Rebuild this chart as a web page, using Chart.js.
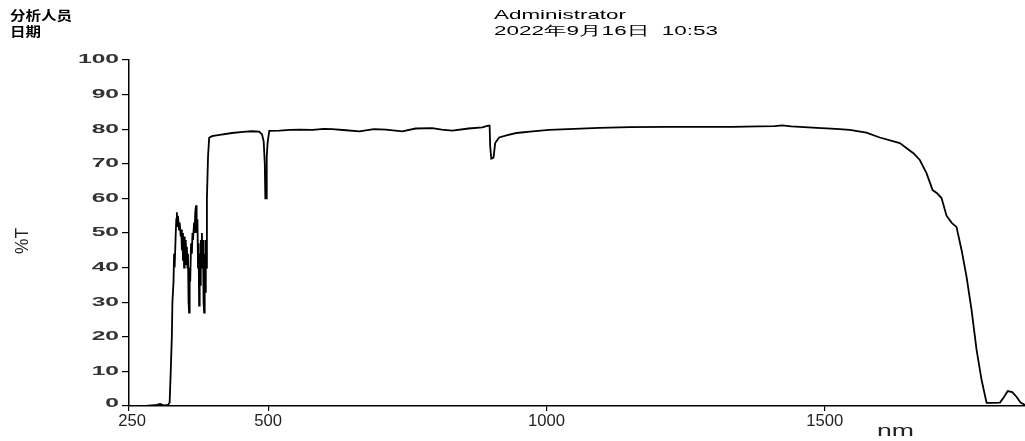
<!DOCTYPE html>
<html>
<head>
<meta charset="utf-8">
<script src="https://cdn.jsdelivr.net/npm/chart.js@4.4.1/dist/chart.umd.min.js"></script>
<style>
html,body{margin:0;padding:0;background:#fff;}
#wrap{width:1025px;height:441px;position:relative;}
</style>
</head>
<body>
<div id="wrap"><canvas id="c" width="1025" height="441"></canvas></div>
<script>
// Wavelength (nm) and transmittance (%T)
const wavelengths = [250,280,300,306,312,320,323,325,327,328,330,331,332,334,335,336,337,338,340,341,343,344,345,346,347,348,349,350,351,352,353,354,355,356,357,358,359,360,361.5,363,364,365,367,368,369,370.5,371,372,373,374,375,376,377,378,379,380,381,382,383,384,385,386,387,388,389,390,392,394,399,410,435,455,471,484,489,492,494,495,496.5,497.5,499,502,520,540,556,580,600,615,640,664,690,712,741,765,795,812,831,860,885,895,898,899,901,905,908,915,930,946,975,1005,1050,1095,1150,1216,1280,1335,1380,1410,1424,1440,1486,1520,1545,1575,1599,1635,1660,1671,1683,1694,1702,1710,1719,1728,1737,1746,1755,1764,1773,1782,1791,1802,1815,1822,1829,1837,1845,1852,1860];
const transmittance = [0,0,0.3,0.6,0.2,0.3,1,10,20,30,36,44,40,50,54,56,52,55,51,53,49,51,45,50,42,48,40,49,42,48,41,46,40,44,30,27,40,36,47,44,50,48,53,50,56,58,54,50,54,40,47,29,44,35,48,40,50,42,48,30,27,44,33,48,40,60,72,77.5,78,78.3,78.9,79.2,79.4,79.3,78.5,76.5,70,60,60,72,76,79.5,79.6,79.8,79.9,79.8,80.1,80,79.7,79.4,80,79.9,79.4,80.2,80.3,79.9,79.6,80.2,80.5,81,81,75,71.5,71.8,76,77.6,78.3,78.9,79.4,79.8,80.1,80.4,80.6,80.7,80.7,80.7,80.8,80.9,81.1,80.8,80.4,80.1,79.8,79,77.6,76,73,71.1,67.3,62.4,61.5,60.1,55,53,51.7,45.1,37.3,27.7,16.2,7.5,0.9,0.9,1,2.5,4.3,4,2.6,1,0.3];
const xTickValues = [250,500,1000,1500];
const yTickValues = [0,10,20,30,40,50,60,70,80,90,100];
const headerLeft = ["分析人员","日期"];
const headerRight = ["Administrator","2022年9月16日  10:53"];
const xTitle = "nm";
const yTitle = "%T";

const points = wavelengths.map((w,i)=>({x:w,y:transmittance[i]}));

function fitText(ctx, text, x, y, targetW, font, align, color){
  ctx.save();
  ctx.font = font;
  ctx.fillStyle = color || '#000';
  ctx.textBaseline = 'alphabetic';
  ctx.textAlign = 'left';
  const w = ctx.measureText(text).width;
  const sx = targetW / w;
  ctx.translate(x, y);
  ctx.scale(sx, 1);
  let ox = 0;
  if (align === 'right') ox = -w;
  else if (align === 'center') ox = -w/2;
  ctx.fillText(text, ox, 0);
  ctx.restore();
}
function scaleFactor(ctx, text, targetW, font){
  ctx.save(); ctx.font = font; const w = ctx.measureText(text).width; ctx.restore();
  return targetW / w;
}

const textPlugin = {
  id: 'texts',
  afterDraw(chart){
    const ctx = chart.ctx;
    const cjk = 'bold 13px "Noto Sans CJK SC", sans-serif';
    fitText(ctx, headerLeft[0], 10, 20, 62, cjk, 'left', '#000');
    fitText(ctx, headerLeft[1], 10, 36, 31, cjk, 'left', '#000');
    const lat = '13px "Liberation Sans", Arial, sans-serif';
    fitText(ctx, headerRight[0], 494, 19, 132, lat, 'left', '#000');
    fitText(ctx, headerRight[1], 494, 35, 224, lat, 'left', '#000');

    // y tick labels
    const yf = 'bold 12px "Liberation Sans", Arial, sans-serif';
    const sy = scaleFactor(ctx, "100", 41, yf);
    const ys = chart.scales.y;
    yTickValues.forEach(v=>{
      const py = ys.getPixelForValue(v);
      ctx.save();
      ctx.font = yf; ctx.fillStyle = '#333'; ctx.textBaseline = 'middle'; ctx.textAlign = 'left';
      const t = String(v);
      const w = ctx.measureText(t).width;
      ctx.translate(119, v===0 ? py-2 : py);
      ctx.scale(sy,1);
      ctx.fillText(t, -w, 0);
      ctx.restore();
    });
    // x tick labels
    const xf = '16px "Liberation Sans", Arial, sans-serif';
    const sxx = scaleFactor(ctx, "1000", 37, xf);
    const xs = chart.scales.x;
    xTickValues.forEach(v=>{
      const px = xs.getPixelForValue(v);
      ctx.save();
      ctx.font = xf; ctx.fillStyle = '#222'; ctx.textBaseline = 'alphabetic'; ctx.textAlign = 'left';
      const t = String(v);
      const w = ctx.measureText(t).width;
      ctx.translate(v===250 ? px+3 : px, 426);
      ctx.scale(sxx,1);
      ctx.fillText(t, -w/2, 0);
      ctx.restore();
    });
    // axis titles
    fitText(ctx, xTitle, 877, 436, 37, '17px "Liberation Sans", Arial, sans-serif', 'left', '#222');
    ctx.save();
    ctx.translate(28, 241);
    ctx.rotate(-Math.PI/2);
    fitText(ctx, yTitle, 0, 0, 26, '18px "Liberation Sans", Arial, sans-serif', 'center', '#222');
    ctx.restore();
  }
};

new Chart(document.getElementById('c'), {
  type: 'line',
  data: { datasets: [{ data: points, borderColor: '#000', borderWidth: 1.8, pointRadius: 0, tension: 0, fill: false }] },
  options: {
    responsive: false, animation: false,
    layout: { padding: { top: 60, left: 0, right: 0, bottom: 0 } },
    plugins: { legend: { display: false }, tooltip: { enabled: false } },
    scales: {
      x: {
        type: 'linear', min: 250, max: 1860,
        afterBuildTicks(s){ s.ticks = xTickValues.map(v=>({value:v})); },
        afterFit(s){ s.height = 35; },
        ticks: { display: false },
        grid: { display: true, drawOnChartArea: false, drawTicks: true, tickLength: 5, color: '#000', lineWidth: 1.2 },
        border: { display: true, color: '#000', width: 1.5 }
      },
      y: {
        min: 0, max: 100,
        afterBuildTicks(s){ s.ticks = yTickValues.map(v=>({value:v})); },
        afterFit(s){ s.width = 129; },
        ticks: { display: false },
        grid: { display: true, drawOnChartArea: false, drawTicks: true, tickLength: 7, color: '#000', lineWidth: 1.2 },
        border: { display: true, color: '#000', width: 1.5 }
      }
    }
  },
  plugins: [textPlugin]
});
</script>
</body>
</html>
